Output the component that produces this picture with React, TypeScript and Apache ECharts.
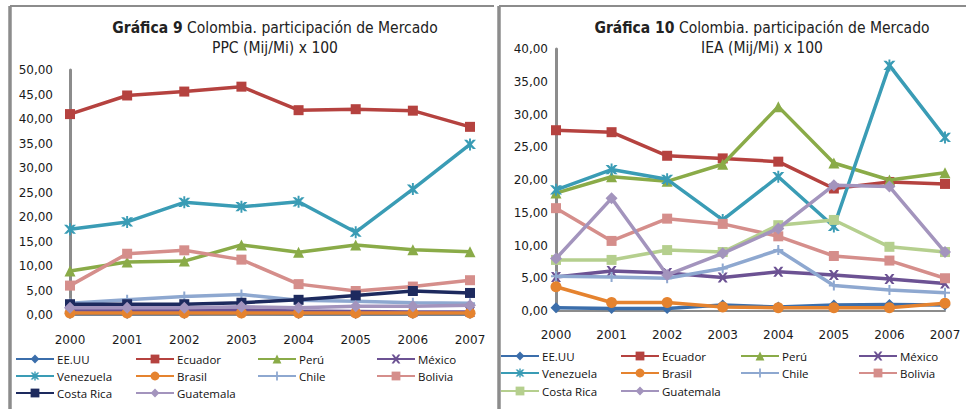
import React, { useEffect, useRef } from "react";
import * as echarts from "echarts";

// ---------- Data ----------
const years = ["2000", "2001", "2002", "2003", "2004", "2005", "2006", "2007"];
const countries = ["EE.UU", "Ecuador", "Perú", "México", "Venezuela", "Brasil", "Chile", "Bolivia", "Costa Rica", "Guatemala"];

// Gráfica 9: PPC
const ppcEEUU = [0.3, 0.3, 0.3, 0.4, 0.3, 0.3, 0.3, 0.3];
const ppcEcuador = [41.0, 44.8, 45.6, 46.6, 41.8, 42.0, 41.7, 38.4];
const ppcPeru = [9.0, 10.8, 11.0, 14.3, 12.8, 14.3, 13.3, 12.9];
const ppcMexico = [1.0, 0.9, 0.9, 1.0, 0.8, 0.7, 0.6, 0.6];
const ppcVenezuela = [17.5, 19.0, 23.0, 22.1, 23.1, 16.9, 25.7, 34.8];
const ppcBrasil = [0.4, 0.4, 0.4, 0.4, 0.4, 0.4, 0.4, 0.4];
const ppcChile = [2.4, 3.1, 3.8, 4.2, 3.0, 2.8, 2.5, 2.4];
const ppcBolivia = [6.0, 12.5, 13.2, 11.3, 6.3, 4.9, 5.8, 7.1];
const ppcCostaRica = [2.2, 2.2, 2.2, 2.5, 3.1, 4.0, 4.9, 4.5];
const ppcGuatemala = [1.5, 1.5, 1.5, 1.7, 1.5, 1.8, 1.8, 2.0];

// Gráfica 10: IEA
const ieaEEUU = [0.5, 0.4, 0.4, 0.9, 0.6, 0.9, 1.0, 0.9];
const ieaEcuador = [27.6, 27.3, 23.7, 23.3, 22.8, 18.7, 19.7, 19.4];
const ieaPeru = [18.0, 20.5, 19.8, 22.4, 31.2, 22.6, 20.0, 21.1];
const ieaMexico = [5.2, 6.1, 5.8, 5.1, 6.0, 5.5, 4.9, 4.2];
const ieaVenezuela = [18.5, 21.6, 20.1, 13.9, 20.5, 12.9, 37.5, 26.5];
const ieaBrasil = [3.7, 1.3, 1.3, 0.6, 0.5, 0.5, 0.5, 1.2];
const ieaChile = [5.3, 5.2, 5.0, 6.5, 9.3, 3.9, 3.2, 2.8];
const ieaBolivia = [15.7, 10.7, 14.1, 13.3, 11.4, 8.4, 7.7, 5.0];
const ieaCostaRica = [7.8, 7.8, 9.3, 9.0, 13.1, 13.9, 9.8, 9.0];
const ieaGuatemala = [8.0, 17.2, 5.5, 8.8, 12.6, 19.2, 19.0, 9.0];

// ---------- Styles ----------
const X_PATH = "path://M0,0L2.5,0L5,3L7.5,0L10,0L6.5,5L10,10L7.5,10L5,7L2.5,10L0,10L3.5,5Z";
const STAR_PATH = "path://M0,0L2.5,0L5,3L7.5,0L10,0L6.5,5L10,10L7.5,10L5,7L2.5,10L0,10L3.5,5Z M4.2,-1.5L5.8,-1.5L5.8,11.5L4.2,11.5Z";
const PLUS_PATH = "path://M4,0H6V4H10V6H6V10H4V6H0V4H4Z";
const DASH_PATH = "path://M0,3.5H10V6.5H0Z";

const symbols = ["diamond", "rect", "triangle", X_PATH, STAR_PATH, "circle", PLUS_PATH, DASH_PATH, DASH_PATH, "diamond"];
const symbolSizes = [11, 10, 11, 10, 12, 11, 10, 10, 10, 12];
const colorsLeft = ["#3b6eab", "#b5423f", "#8aab48", "#6c5293", "#3a9cb5", "#e5832f", "#8ea8d0", "#d58e8b", "#1d2a5e", "#a394bd"];
const colorsRight = ["#3b6eab", "#b5423f", "#8aab48", "#6c5293", "#3a9cb5", "#e5832f", "#8ea8d0", "#d58e8b", "#b5cf8e", "#a394bd"];

const AXIS_FONT = "'DejaVu Sans', 'Open Sans', sans-serif";
const TITLE_FONT = "'Liberation Sans Narrow', 'DejaVu Sans Condensed', 'Roboto', sans-serif";
const LEGEND_FONT = "'Open Sans', 'Noto Sans', sans-serif";

type PanelCfg = {
  titleBold: string;
  subtitle: string;
  titleX: number;
  titleTop: number;
  data: number[][];
  colors: string[];
  yMax: number;
  grid: { left: number; top: number; width: number; height: number };
  legendCols: number[];
  legendRows: number[];
  borderX: number;
  width: number;
  labelMarginY: number;
  labelMarginX: number;
};

function buildOption(cfg: PanelCfg) {
  const series = countries.map((name, i) => ({
    name,
    type: "line",
    data: cfg.data[i],
    symbol: symbols[i],
    symbolSize: symbolSizes[i],
    showSymbol: true,
    lineStyle: { width: 3.5, color: cfg.colors[i] },
    itemStyle: { color: cfg.colors[i] },
    z: 2 + i,
  }));

  const legends = countries.map((name, i) => ({
    data: [name],
    left: cfg.legendCols[i % 4],
    top: cfg.legendRows[Math.floor(i / 4)],
    itemWidth: 38,
    itemHeight: 11,
    padding: 0,
    itemGap: 0,
    selectedMode: false,
    textStyle: { fontFamily: LEGEND_FONT, fontSize: 11.5, lineHeight: 11, color: "#111", padding: [0, 0, 0, -2] },
  }));

  return {
    animation: false,
    backgroundColor: "#ffffff",
    title: {
      text: `{b|${cfg.titleBold}} Colombia. participación de Mercado\n${cfg.subtitle}`,
      left: cfg.titleX,
      top: cfg.titleTop,
      textAlign: "center",
      textStyle: {
        fontFamily: TITLE_FONT,
        fontSize: 15.5,
        fontWeight: "normal",
        color: "#222",
        lineHeight: 20,
        rich: {
          b: { fontFamily: TITLE_FONT, fontSize: 15.5, fontWeight: "bold", color: "#222", lineHeight: 20 },
        },
      },
    },
    legend: legends,
    grid: { left: cfg.grid.left, top: cfg.grid.top, width: cfg.grid.width, height: cfg.grid.height, containLabel: false },
    xAxis: {
      type: "category",
      data: years,
      boundaryGap: false,
      axisLine: { show: true, lineStyle: { color: "#8c8c8c", width: 2 } },
      axisTick: { show: false },
      axisLabel: { fontFamily: AXIS_FONT, fontSize: 12, color: "#1a1a1a", margin: cfg.labelMarginX, interval: 0 },
      splitLine: { show: false },
    },
    yAxis: {
      type: "value",
      min: 0,
      max: cfg.yMax,
      interval: 5,
      axisLine: { show: true, lineStyle: { color: "#8c8c8c", width: 3 } },
      axisTick: { show: false },
      splitLine: { show: false },
      axisLabel: {
        fontFamily: AXIS_FONT,
        fontSize: 12,
        color: "#1a1a1a",
        margin: cfg.labelMarginY,
        formatter: (v: number) => v.toFixed(2).replace(".", ","),
      },
    },
    graphic: [
      { type: "line", shape: { x1: cfg.borderX, y1: 6, x2: cfg.width, y2: 6 }, style: { stroke: "#8c8c8c", lineWidth: 2 } },
      { type: "line", shape: { x1: cfg.borderX, y1: 6, x2: cfg.borderX, y2: 409 }, style: { stroke: "#8c8c8c", lineWidth: 3.5 } },
    ],
    series,
  };
}

const leftCfg: PanelCfg = {
  titleBold: "Gráfica 9",
  subtitle: "PPC (Mij/Mi) x 100",
  titleX: 270,
  titleTop: 13,
  data: [ppcEEUU, ppcEcuador, ppcPeru, ppcMexico, ppcVenezuela, ppcBrasil, ppcChile, ppcBolivia, ppcCostaRica, ppcGuatemala],
  colors: colorsLeft,
  yMax: 50,
  grid: { left: 70, top: 70, width: 400, height: 245 },
  legendCols: [15, 135, 257, 376],
  legendRows: [353, 370, 387],
  borderX: 10,
  width: 494,
  labelMarginY: 17,
  labelMarginX: 19,
};

const rightCfg: PanelCfg = {
  titleBold: "Gráfica 10",
  subtitle: "IEA (Mij/Mi) x 100",
  titleX: 263,
  titleTop: 13,
  data: [ieaEEUU, ieaEcuador, ieaPeru, ieaMexico, ieaVenezuela, ieaBrasil, ieaChile, ieaBolivia, ieaCostaRica, ieaGuatemala],
  colors: colorsRight,
  yMax: 40,
  grid: { left: 62, top: 49, width: 389, height: 262 },
  legendCols: [6, 126, 246, 364],
  legendRows: [350, 367, 385],
  borderX: 5,
  width: 472,
  labelMarginY: 8,
  labelMarginX: 18,
};

function Panel({ cfg, left, width }: { cfg: PanelCfg; left: number; width: number }) {
  const ref = useRef<HTMLDivElement>(null);
  useEffect(() => {
    if (!ref.current) return;
    const chart = echarts.init(ref.current, undefined, { renderer: "svg" });
    chart.setOption(buildOption(cfg) as any);
    return () => chart.dispose();
  }, [cfg]);
  return <div ref={ref} style={{ position: "absolute", left, top: 0, width, height: 409 }} />;
}

export default function App() {
  return (
    <div style={{ position: "fixed", left: 0, top: 0, width: 966, height: 409, background: "#fff" }}>
      <Panel cfg={leftCfg} left={0} width={494} />
      <Panel cfg={rightCfg} left={494} width={472} />
    </div>
  );
}
